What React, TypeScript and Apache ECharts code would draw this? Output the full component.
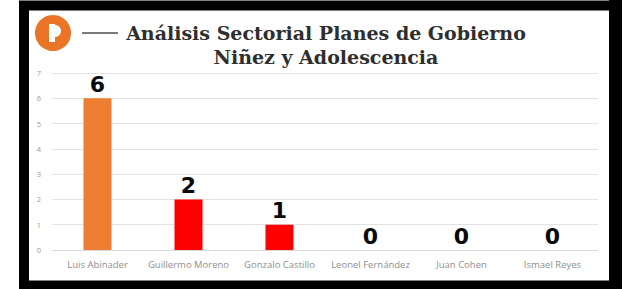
import React, { useEffect, useRef } from "react";
import * as echarts from "echarts";

const categories = [
  "Luis Abinader",
  "Guillermo Moreno",
  "Gonzalo Castillo",
  "Leonel Fernández",
  "Juan Cohen",
  "Ismael Reyes",
];
const values = [6, 2, 1, 0, 0, 0];
const barColors = ["#ED7D31", "#FF0000", "#FF0000", "#FF0000", "#FF0000", "#FF0000"];
const titleLines = ["Análisis Sectorial Planes de Gobierno", "Niñez y Adolescencia"];

export default function App() {
  const ref = useRef<HTMLDivElement>(null);
  useEffect(() => {
    if (!ref.current) return;
    const chart = echarts.init(ref.current, undefined, { renderer: "svg" });
    chart.setOption({
      animation: false,
      backgroundColor: "#ffffff",
      grid: { left: 52, right: 27, top: 73, bottom: 39, containLabel: false },
      xAxis: {
        type: "category",
        data: categories,
        axisLine: { show: true, lineStyle: { color: "#d9d9d9" } },
        axisTick: { show: false },
        axisLabel: {
          color: "#8f8f8f",
          fontSize: 9.5,
          fontFamily: "Open Sans",
          margin: 9,
          interval: 0,
        },
      },
      yAxis: {
        type: "value",
        min: 0,
        max: 7,
        interval: 1,
        axisLine: { show: false },
        axisTick: { show: false },
        splitLine: { lineStyle: { color: "#e3e3e3" } },
        axisLabel: { color: "#9a9a9a", fontSize: 7.5, fontFamily: "Open Sans", margin: 11 },
      },
      series: [
        {
          type: "bar",
          barWidth: 28,
          data: values.map((v, i) => ({ value: v, itemStyle: { color: barColors[i] } })),
          label: {
            show: true,
            position: "top",
            distance: 3,
            color: "#0a0a0a",
            fontSize: 22,
            fontWeight: "bold",
            fontFamily: "DejaVu Sans",
          },
        },
      ],
      graphic: [
        // black frame
        {
          type: "rect",
          shape: { x: 24, y: 5.5, width: 591.5, height: 280 },
          style: { fill: "none", stroke: "#000000", lineWidth: 10 },
          z: 100,
        },
        {
          type: "rect",
          shape: { x: 609, y: 0, width: 13, height: 289 },
          style: { fill: "#000000" },
          z: 100,
        },
        // logo
        {
          type: "circle",
          shape: { cx: 53, cy: 33, r: 18 },
          style: { fill: "#EB7526" },
        },
        {
          type: "rect",
          shape: { x: 49, y: 24, width: 6, height: 18 },
          style: { fill: "#ffffff" },
          z: 10,
        },
        {
          type: "circle",
          shape: { cx: 55, cy: 31, r: 6 },
          style: { fill: "#ffffff" },
          z: 10,
        },
        {
          type: "line",
          shape: { x1: 82, y1: 33, x2: 118, y2: 33 },
          style: { stroke: "#7a7a7a", lineWidth: 2 },
        },
        {
          type: "text",
          style: {
            x: 326,
            y: 33,
            text: titleLines[0],
            align: "center",
            verticalAlign: "middle",
            fill: "#2e2e2e",
            font: "bold 19px 'DejaVu Serif'",
          },
        },
        {
          type: "text",
          style: {
            x: 326,
            y: 57,
            text: titleLines[1],
            align: "center",
            verticalAlign: "middle",
            fill: "#2e2e2e",
            font: "bold 19px 'DejaVu Serif'",
          },
        },
      ],
    });
    return () => chart.dispose();
  }, []);
  return <div ref={ref} style={{ position: "fixed", left: 0, top: 0, width: 625, height: 289 }} />;
}
